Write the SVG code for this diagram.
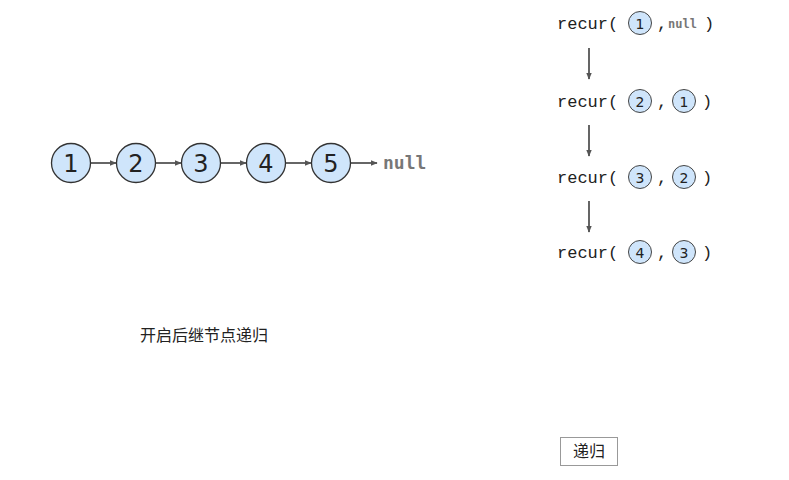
<svg xmlns="http://www.w3.org/2000/svg" width="789" height="480" viewBox="0 0 789 480">
<defs>
<marker id="ah" viewBox="0 0 10 10" refX="9" refY="5" markerWidth="7" markerHeight="7" orient="auto" markerUnits="userSpaceOnUse">
<path d="M0,1 L10,5 L0,9 Z" fill="#555"/>
</marker>
<style>
.node{fill:#cfe5fb;stroke:#333;stroke-width:1.3}
.num{font-family:"DejaVu Sans","Liberation Sans",sans-serif;font-size:24px;fill:#222;text-anchor:middle;dominant-baseline:central}
.snode{fill:#cfe5fb;stroke:#444;stroke-width:1}
.snum{font-family:"DejaVu Sans","Liberation Sans",sans-serif;font-size:14px;fill:#222;text-anchor:middle;dominant-baseline:central}
.code{font-family:"Liberation Mono",monospace;font-size:17px;fill:#222}
.edge{stroke:#555;stroke-width:1.8;fill:none}
.null{font-family:"DejaVu Sans Mono",monospace;font-weight:bold;fill:#777}
.cjk{font-family:"Noto Sans CJK SC",sans-serif;font-size:16px;fill:#222}
</style>
</defs>
<rect width="789" height="480" fill="#fff"/>
<g id="connectors">
<line class="edge" x1="91" y1="163" x2="116" y2="163" marker-end="url(#ah)"/>
<line class="edge" x1="156" y1="163" x2="181" y2="163" marker-end="url(#ah)"/>
<line class="edge" x1="221" y1="163" x2="246" y2="163" marker-end="url(#ah)"/>
<line class="edge" x1="286" y1="163" x2="311" y2="163" marker-end="url(#ah)"/>
<line class="edge" x1="351" y1="163" x2="377" y2="163" marker-end="url(#ah)"/>
<line class="edge" x1="589" y1="48" x2="589" y2="79" marker-end="url(#ah)"/>
<line class="edge" x1="589" y1="125" x2="589" y2="156" marker-end="url(#ah)"/>
<line class="edge" x1="589" y1="201" x2="589" y2="232" marker-end="url(#ah)"/>
</g>
<g id="n1"><circle class="node" cx="71" cy="163" r="19.5"/><text class="num" x="71" y="164">1</text></g>
<g id="n2"><circle class="node" cx="136" cy="163" r="19.5"/><text class="num" x="136" y="164">2</text></g>
<g id="n3"><circle class="node" cx="201" cy="163" r="19.5"/><text class="num" x="201" y="164">3</text></g>
<g id="n4"><circle class="node" cx="266" cy="163" r="19.5"/><text class="num" x="266" y="164">4</text></g>
<g id="n5"><circle class="node" cx="331" cy="163" r="19.5"/><text class="num" x="331" y="164">5</text></g>
<g id="null-main"><text class="null" x="383" y="169" font-size="18">null</text></g>
<g id="label-main"><text class="cjk" x="204" y="341" text-anchor="middle">开启后继节点递归</text></g>

<g id="row1">
<text class="code" x="557" y="29">recur(</text>
<circle class="snode" cx="640" cy="23" r="11.5"/><text class="snum" x="640" y="23.5">1</text>
<text class="code" x="657" y="29">,</text>
<text class="null" x="668" y="28" font-size="12">null</text>
<text class="code" x="704" y="29">)</text>
</g>
<g id="row2">
<text class="code" x="557" y="107">recur(</text>
<circle class="snode" cx="640" cy="101" r="11.5"/><text class="snum" x="640" y="101.5">2</text>
<text class="code" x="657" y="107">,</text>
<circle class="snode" cx="684" cy="101" r="11.5"/><text class="snum" x="684" y="101.5">1</text>
<text class="code" x="702" y="107">)</text>
</g>
<g id="row3">
<text class="code" x="557" y="183">recur(</text>
<circle class="snode" cx="640" cy="177" r="11.5"/><text class="snum" x="640" y="177.5">3</text>
<text class="code" x="657" y="183">,</text>
<circle class="snode" cx="684" cy="177" r="11.5"/><text class="snum" x="684" y="177.5">2</text>
<text class="code" x="702" y="183">)</text>
</g>
<g id="row4">
<text class="code" x="557" y="258">recur(</text>
<circle class="snode" cx="640" cy="252" r="11.5"/><text class="snum" x="640" y="252.5">4</text>
<text class="code" x="657" y="258">,</text>
<circle class="snode" cx="684" cy="252" r="11.5"/><text class="snum" x="684" y="252.5">3</text>
<text class="code" x="702" y="258">)</text>
</g>
<g id="btn">
<rect x="560.5" y="437.5" width="57" height="28" fill="#fff" stroke="#999" stroke-width="1"/>
<text class="cjk" x="589" y="457" text-anchor="middle" font-size="16.5">递归</text>
</g>
</svg>
